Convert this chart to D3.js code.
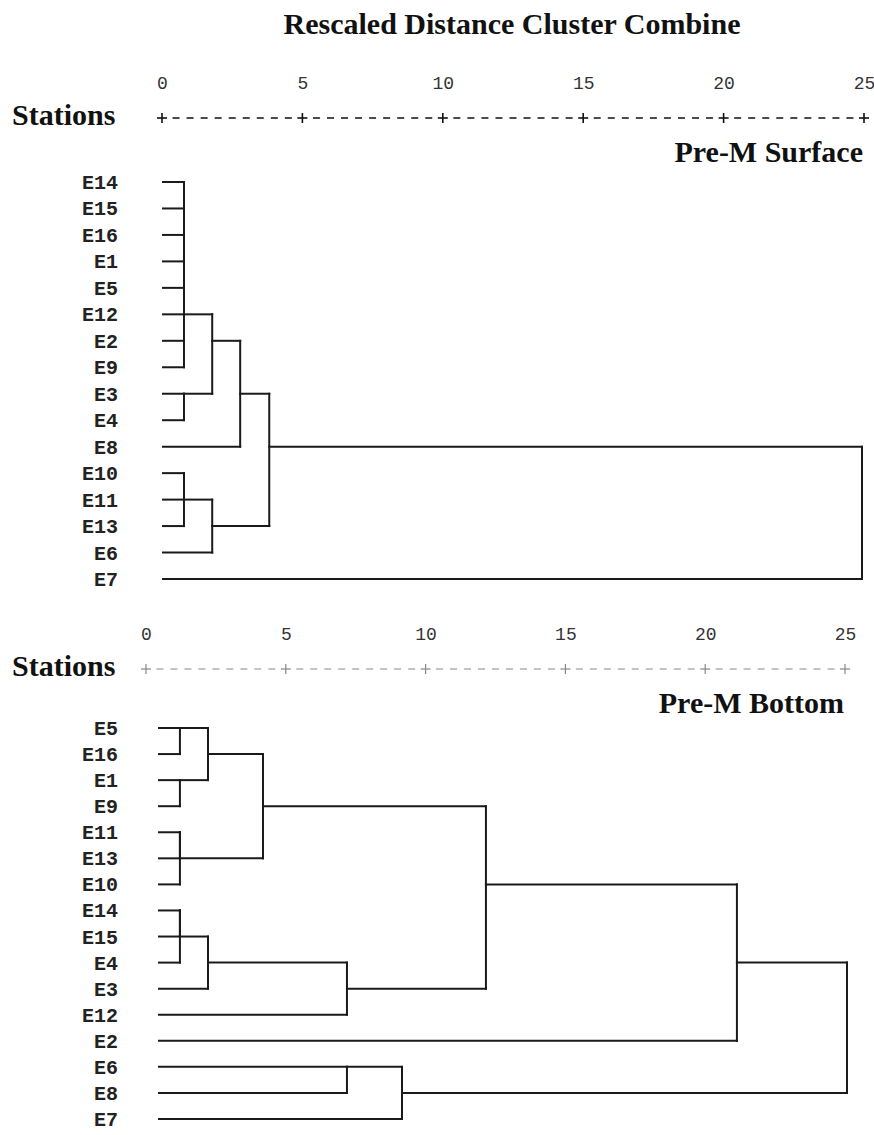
<!DOCTYPE html>
<html>
<head>
<meta charset="utf-8">
<script src="https://cdn.jsdelivr.net/npm/d3@7"></script>
<style>
  body { margin: 0; background: #fff; }
  .head { font-family: "Liberation Serif", "Times New Roman", serif; font-weight: bold; font-size: 30px; fill: #111; }
  .leaf { font-family: "Liberation Mono", "Courier New", monospace; font-weight: bold; font-size: 20px; fill: #222; }
  .tick text { font-family: "Liberation Mono", "Courier New", monospace; font-size: 18px; fill: #333; }
</style>
</head>
<body>
<svg id="chart"></svg>
<script>
// Set up chart
var svgWidth = 874;
var svgHeight = 1135;

var distTicks = [0, 5, 10, 15, 20, 25];

// Pre-M surface: station order and agglomeration schedule [cluster 1, cluster 2, rescaled distance]
var surfaceStations = ["E14", "E15", "E16", "E1", "E5", "E12", "E2", "E9",
                       "E3", "E4", "E8", "E10", "E11", "E13", "E6", "E7"];
var surfaceMerges = [
    ["E14", "E15", 0.75],
    ["E14", "E16", 0.75],
    ["E14", "E1", 0.75],
    ["E14", "E5", 0.75],
    ["E14", "E12", 0.75],
    ["E2", "E9", 0.75],
    ["E14", "E2", 0.75],
    ["E3", "E4", 0.75],
    ["E10", "E11", 0.75],
    ["E10", "E13", 0.75],
    ["E14", "E3", 1.76],
    ["E10", "E6", 1.76],
    ["E14", "E8", 2.76],
    ["E14", "E10", 3.8],
    ["E14", "E7", 25]
];

// Pre-M bottom
var bottomStations = ["E5", "E16", "E1", "E9", "E11", "E13", "E10", "E14",
                      "E15", "E4", "E3", "E12", "E2", "E6", "E8", "E7"];
var bottomMerges = [
    ["E5", "E16", 0.76],
    ["E1", "E9", 0.76],
    ["E5", "E1", 1.78],
    ["E11", "E13", 0.76],
    ["E11", "E10", 0.76],
    ["E5", "E11", 3.78],
    ["E14", "E15", 0.76],
    ["E14", "E4", 0.76],
    ["E14", "E3", 1.78],
    ["E14", "E12", 6.83],
    ["E5", "E14", 11.88],
    ["E6", "E8", 6.83],
    ["E6", "E7", 8.83],
    ["E5", "E2", 21.0],
    ["E5", "E6", 25]
];

var svg = d3.select("#chart")
    .attr("width", svgWidth)
    .attr("height", svgHeight);

svg.append("text")
    .attr("class", "head")
    .attr("x", 512)
    .attr("y", 34)
    .attr("text-anchor", "middle")
    .text("Rescaled Distance Cluster Combine");

function drawPanel(p) {
    var g = svg.append("g");

    var xAxisScale = d3.scaleLinear().domain([0, 25]).range(p.axisRange);
    var x = d3.scaleLinear().domain([0, 25]).range(p.treeRange);
    var y = d3.scalePoint().domain(p.stations).range(p.rowRange);

    // tick numbers
    var ax = g.append("g")
        .attr("transform", "translate(0," + p.axisY + ")")
        .call(d3.axisTop(xAxisScale).tickValues(distTicks).tickSize(0).tickPadding(29));
    ax.select(".domain").remove();

    g.append("text")
        .attr("class", "head")
        .attr("x", 12)
        .attr("y", p.axisY + 7)
        .text("Stations");

    // dashed rule, 9 dashes between each pair of ticks
    for (var i = 0; i < distTicks.length - 1; i++) {
        var x0 = xAxisScale(distTicks[i]), x1 = xAxisScale(distTicks[i + 1]);
        var step = (x1 - x0) / 10;
        g.append("line")
            .attr("x1", x0 + step - 3.5)
            .attr("x2", x1 - step + 3.5)
            .attr("y1", p.axisY)
            .attr("y2", p.axisY)
            .attr("stroke", p.axisColor)
            .attr("stroke-width", p.axisWidth)
            .attr("stroke-dasharray", "7," + (step - 7));
    }

    // plus marks at the ticks
    var plus = g.selectAll(".plus")
        .data(distTicks)
        .enter()
        .append("g")
        .attr("transform", function(d) { return "translate(" + xAxisScale(d) + "," + p.axisY + ")"; })
        .attr("stroke", p.axisColor)
        .attr("stroke-width", p.axisWidth);
    plus.append("line").attr("x1", -5).attr("x2", 5);
    plus.append("line").attr("y1", -5).attr("y2", 5);

    g.append("text")
        .attr("class", "head")
        .attr("x", xAxisScale(25) - 1)
        .attr("y", p.axisY + 44)
        .attr("text-anchor", "end")
        .text(p.title);

    // station labels
    g.selectAll(".leaf")
        .data(p.stations)
        .enter()
        .append("text")
        .attr("class", "leaf")
        .attr("x", 118)
        .attr("y", function(d) { return y(d); })
        .attr("dy", "0.35em")
        .attr("text-anchor", "end")
        .text(function(d) { return d; });

    // build dendrogram segments from the schedule
    var node = {};
    p.stations.forEach(function(s, i) { node[s] = {idx: i, h: 0}; });
    var segs = [];
    p.merges.forEach(function(m) {
        var a = node[m[0]], b = node[m[1]], h = m[2];
        var ya = y(p.stations[a.idx]), yb = y(p.stations[b.idx]);
        segs.push([x(a.h), ya, x(h), ya]);
        segs.push([x(b.h), yb, x(h), yb]);
        segs.push([x(h), ya, x(h), yb]);
        node[m[0]] = {idx: Math.floor((a.idx + b.idx) / 2), h: h};
    });

    g.selectAll(".seg")
        .data(segs)
        .enter()
        .append("line")
        .attr("class", "seg")
        .attr("x1", function(d) { return d[0]; })
        .attr("y1", function(d) { return d[1]; })
        .attr("x2", function(d) { return d[2]; })
        .attr("y2", function(d) { return d[3]; })
        .attr("stroke", "#1a1a1a")
        .attr("stroke-width", 2)
        .attr("stroke-linecap", "square");
}

drawPanel({
    stations: surfaceStations,
    merges: surfaceMerges,
    title: "Pre-M Surface",
    axisY: 118,
    axisRange: [162, 864],
    axisColor: "#111",
    axisWidth: 1.6,
    treeRange: [163, 862],
    rowRange: [182, 579]
});

drawPanel({
    stations: bottomStations,
    merges: bottomMerges,
    title: "Pre-M Bottom",
    axisY: 669,
    axisRange: [146, 845],
    axisColor: "#888",
    axisWidth: 1.2,
    treeRange: [159, 847],
    rowRange: [728, 1119]
});
</script>
</body>
</html>
